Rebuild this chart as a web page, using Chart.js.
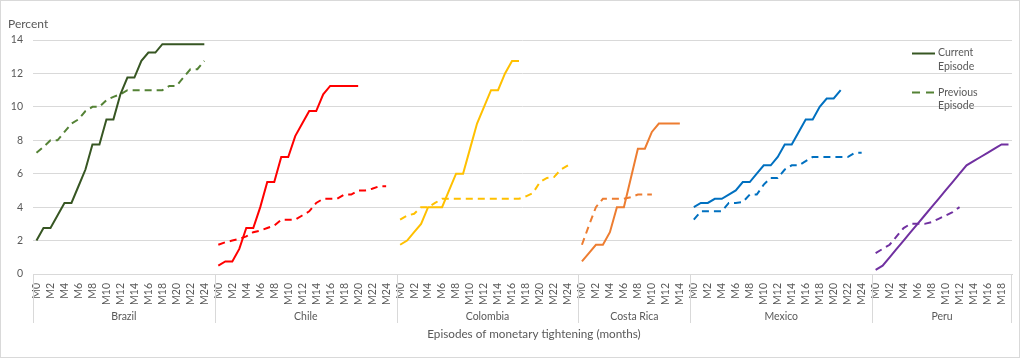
<!DOCTYPE html>
<html>
<head>
<meta charset="utf-8">
<script src="https://cdn.jsdelivr.net/npm/chart.js@4/dist/chart.umd.min.js"></script>
<style>
  body { margin: 0; background: #fff; }
</style>
</head>
<body>
<canvas id="tighteningChart" width="1020" height="358"></canvas>
<script>
// Episode groups and number of months shown for each
var countries = ["Brazil", "Chile", "Colombia", "Costa Rica", "Mexico", "Peru"];
var monthsShown = [26, 26, 26, 16, 26, 20];

// Policy rate increase, percent (current / previous episode)
var brazilCurrent = [2, 2.75, 2.75, 3.5, 4.25, 4.25, 5.25, 6.25, 7.75, 7.75, 9.25, 9.25, 10.75, 11.75, 11.75, 12.75, 13.25, 13.25, 13.75, 13.75, 13.75, 13.75, 13.75, 13.75, 13.75];
var brazilPrevious = [7.25, 7.6, 8, 8, 8.5, 9, 9.25, 9.75, 10, 10, 10.4, 10.6, 10.75, 11, 11, 11, 11, 11, 11, 11.25, 11.25, 11.75, 12.25, 12.25, 12.75];

var chileCurrent = [0.5, 0.75, 0.75, 1.5, 2.75, 2.75, 4, 5.5, 5.5, 7, 7, 8.25, 9, 9.75, 9.75, 10.75, 11.25, 11.25, 11.25, 11.25, 11.25];
var chilePrevious = [1.75, 1.9, 2, 2.1, 2.25, 2.5, 2.6, 2.75, 2.9, 3.25, 3.25, 3.25, 3.5, 3.75, 4.25, 4.5, 4.5, 4.5, 4.75, 4.75, 5, 5, 5.1, 5.25, 5.25];

var colombiaCurrent = [1.75, 2, 2.5, 3, 4, 4, 4, 5, 6, 6, 7.5, 9, 10, 11, 11, 12, 12.75, 12.75];
var colombiaPrevious = [3.25, 3.5, 3.6, 4, 4, 4.25, 4.5, 4.5, 4.5, 4.5, 4.5, 4.5, 4.5, 4.5, 4.5, 4.5, 4.5, 4.5, 4.65, 4.85, 5.5, 5.75, 5.8, 6.25, 6.5];

var costaRicaCurrent = [0.75, 1.25, 1.75, 1.75, 2.5, 4, 4, 5.75, 7.5, 7.5, 8.5, 9, 9, 9, 9];
var costaRicaPrevious = [1.75, 2.9, 4, 4.5, 4.5, 4.5, 4.5, 4.6, 4.75, 4.75, 4.75];

var mexicoCurrent = [4, 4.25, 4.25, 4.5, 4.5, 4.75, 5, 5.5, 5.5, 6, 6.5, 6.5, 7, 7.75, 7.75, 8.5, 9.25, 9.25, 10, 10.5, 10.5, 11];
var mexicoPrevious = [3.25, 3.75, 3.75, 3.75, 3.75, 4.25, 4.25, 4.3, 4.75, 4.75, 5.35, 5.75, 5.75, 6.25, 6.5, 6.5, 6.75, 7, 7, 7, 7, 7, 7, 7.25, 7.25];

var peruCurrent = [0.25, 0.5, 1, 1.5, 2, 2.5, 3, 3.5, 4, 4.5, 5, 5.5, 6, 6.5, 6.75, 7, 7.25, 7.5, 7.75, 7.75];
var peruPrevious = [1.25, 1.5, 1.75, 2.25, 2.75, 3, 3, 3, 3.1, 3.3, 3.5, 3.7, 4];

var currentSeries = [brazilCurrent, chileCurrent, colombiaCurrent, costaRicaCurrent, mexicoCurrent, peruCurrent];
var previousSeries = [brazilPrevious, chilePrevious, colombiaPrevious, costaRicaPrevious, mexicoPrevious, peruPrevious];
var currentColors = ["#375623", "#ff0000", "#ffc000", "#ed7d31", "#0070c0", "#7030a0"];
var previousColors = ["#548235", "#ff0000", "#ffc000", "#ed7d31", "#0070c0", "#7030a0"];

var textColor = "#595959";
var fontFamily = "Lato, 'Open Sans', sans-serif";

// Build month labels and start index of each group
var labels = [];
var groupStart = [];
for (var g = 0; g < countries.length; g++) {
    groupStart.push(labels.length);
    for (var m = 0; m < monthsShown[g]; m++) {
        labels.push("M" + m);
    }
}

// Place a group's values on the full category axis
function spread(values, g) {
    var out = labels.map(function () { return null; });
    for (var i = 0; i < values.length; i++) {
        out[groupStart[g] + i] = values[i];
    }
    return out;
}

var datasets = [];
for (var g = 0; g < countries.length; g++) {
    datasets.push({
        label: countries[g] + " current",
        data: spread(currentSeries[g], g),
        borderColor: currentColors[g],
        borderWidth: 2,
        fill: false
    });
    datasets.push({
        label: countries[g] + " previous",
        data: spread(previousSeries[g], g),
        borderColor: previousColors[g],
        borderWidth: 2,
        borderDash: [7, 5],
        fill: false
    });
}

// Group labels, dividers, titles and legend
var extrasPlugin = {
    id: "extras",
    afterDraw: function (chart) {
        var c = chart.ctx;
        var x = chart.scales.x;
        var area = chart.chartArea;
        c.save();

        // group dividers and names
        c.strokeStyle = "#d9d9d9";
        c.lineWidth = 1;
        c.fillStyle = textColor;
        c.font = "10.5px " + fontFamily;
        c.textAlign = "center";
        c.textBaseline = "middle";
        for (var g = 0; g < countries.length; g++) {
            var s = groupStart[g];
            var e = s + monthsShown[g] - 1;
            var left = g === 0 ? area.left : (x.getPixelForValue(s - 1) + x.getPixelForValue(s)) / 2;
            var right = g === countries.length - 1 ? area.right : (x.getPixelForValue(e) + x.getPixelForValue(e + 1)) / 2;
            c.beginPath();
            c.moveTo(Math.round(left) + 0.5, area.bottom);
            c.lineTo(Math.round(left) + 0.5, 323);
            c.stroke();
            if (g === countries.length - 1) {
                c.beginPath();
                c.moveTo(Math.round(right) - 0.5, area.bottom);
                c.lineTo(Math.round(right) - 0.5, 323);
                c.stroke();
            }
            c.fillText(countries[g], (left + right) / 2, 317);
        }

        // axis title
        c.font = "11.7px " + fontFamily;
        c.fillText("Episodes of monetary tightening (months)", 534, 334);

        // y unit
        c.textAlign = "left";
        c.font = "12px " + fontFamily;
        c.fillText("Percent", 8, 24);

        // legend
        c.font = "10.5px " + fontFamily;
        c.lineWidth = 2;
        c.strokeStyle = currentColors[0];
        c.beginPath();
        c.moveTo(912, 53.5);
        c.lineTo(935, 53.5);
        c.stroke();
        c.strokeStyle = previousColors[0];
        c.setLineDash([8, 6]);
        c.beginPath();
        c.moveTo(912, 92.5);
        c.lineTo(935, 92.5);
        c.stroke();
        c.setLineDash([]);
        c.fillStyle = textColor;
        c.fillText("Current", 938, 53);
        c.fillText("Episode", 938, 67);
        c.fillText("Previous", 938, 93);
        c.fillText("Episode", 938, 106);

        // chart frame
        c.strokeStyle = "#d9d9d9";
        c.lineWidth = 1;
        c.strokeRect(0.5, 0.5, chart.width - 1, chart.height - 1);
        c.restore();
    }
};

var ctx = document.getElementById("tighteningChart");

var tighteningChart = new Chart(ctx, {
    type: "line",
    data: {
        labels: labels,
        datasets: datasets
    },
    options: {
        responsive: false,
        animation: false,
        layout: { padding: { top: 40, right: 8, left: 0, bottom: 0 } },
        elements: {
            point: { radius: 0, hoverRadius: 0 },
            line: { tension: 0 }
        },
        plugins: {
            legend: { display: false },
            tooltip: { enabled: false }
        },
        scales: {
            x: {
                offset: true,
                grid: { display: false, drawTicks: false },
                border: { color: "#d9d9d9" },
                ticks: {
                    autoSkip: false,
                    minRotation: 90,
                    maxRotation: 90,
                    padding: 9,
                    color: textColor,
                    font: { family: fontFamily, size: 10.5 },
                    callback: function (value) {
                        var lab = this.getLabelForValue(value);
                        return parseInt(lab.slice(1), 10) % 2 === 0 ? lab : "";
                    }
                },
                afterFit: function (scale) {
                    scale.height = 84;
                    scale.paddingLeft = 0;
                    scale.paddingRight = 0;
                }
            },
            y: {
                min: 0,
                max: 14,
                grid: { color: "#d9d9d9", drawTicks: false },
                border: { display: false },
                ticks: {
                    stepSize: 2,
                    padding: 10,
                    color: textColor,
                    font: { family: fontFamily, size: 10.5 }
                },
                afterFit: function (scale) { scale.width = 33; }
            }
        }
    },
    plugins: [extrasPlugin]
});
</script>
</body>
</html>
